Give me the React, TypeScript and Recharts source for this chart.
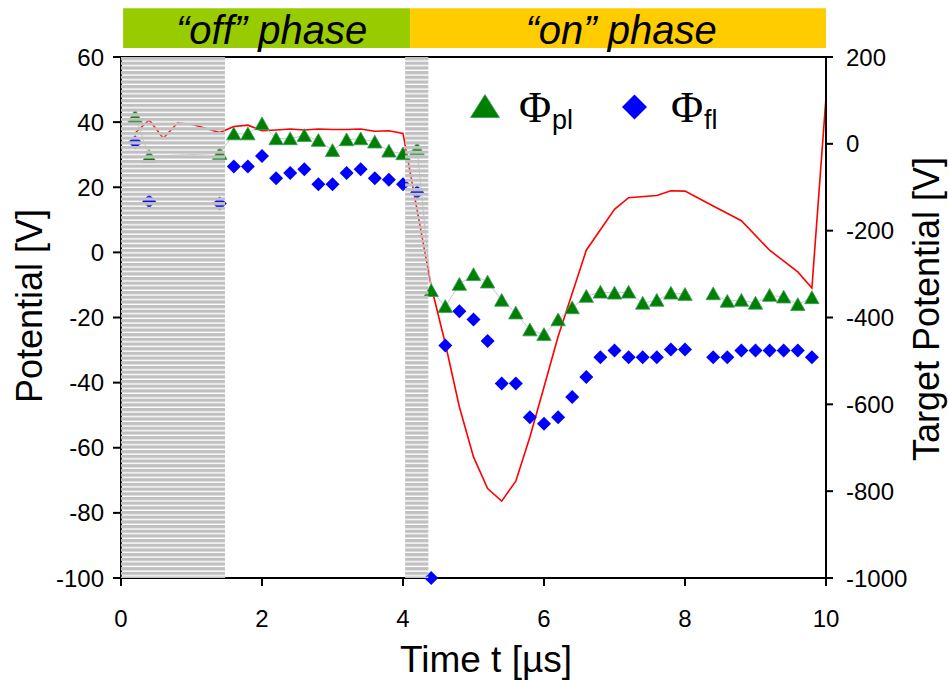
import React from 'react';
import { ComposedChart, Line, Scatter, XAxis, YAxis, ReferenceArea, ReferenceLine, Label } from 'recharts';

// Time axis [µs]
const xTicks = [0, 2, 4, 6, 8, 10];
const leftTicks = [-100, -80, -60, -40, -20, 0, 20, 40, 60];
const rightTicks = [-1000, -800, -600, -400, -200, 0, 200];

// Phi_pl (plasma potential) [V]
const plTime = [0.2, 0.4, 1.4, 1.6, 1.8, 2.0, 2.2, 2.4, 2.6, 2.8, 3.0, 3.2, 3.4, 3.6, 3.8, 4.0, 4.2, 4.4, 4.6, 4.8, 5.0, 5.2, 5.4, 5.6, 5.8, 6.0, 6.2, 6.4, 6.6, 6.8, 7.0, 7.2, 7.4, 7.6, 7.8, 8.0, 8.2, 8.4, 8.6, 8.8, 9.0, 9.2, 9.4, 9.6, 9.8];
const plValues = [41.8, 29.5, 30.4, 36.4, 36.4, 39.5, 34.9, 34.9, 35.9, 34.4, 31.3, 34.6, 34.9, 33.9, 31.1, 30.3, 31.8, -11.7, -16.6, -9.8, -6.8, -9.1, -14.7, -18.6, -23.8, -25.2, -20.7, -17.0, -13.5, -12.2, -12.5, -12.2, -15.6, -14.7, -12.5, -12.9, null, -12.7, -15.0, -14.7, -15.6, -13.2, -13.7, -16.0, -13.9];

// Phi_fl (floating potential) [V]
const flTime = [0.2, 0.4, 1.4, 1.6, 1.8, 2.0, 2.2, 2.4, 2.6, 2.8, 3.0, 3.2, 3.4, 3.6, 3.8, 4.0, 4.2, 4.4, 4.6, 4.8, 5.0, 5.2, 5.4, 5.6, 5.8, 6.0, 6.2, 6.4, 6.6, 6.8, 7.0, 7.2, 7.4, 7.6, 7.8, 8.0, 8.4, 8.6, 8.8, 9.0, 9.2, 9.4, 9.6, 9.8];
const flValues = [33.8, 15.7, 15.0, 26.4, 26.4, 29.6, 22.8, 24.4, 25.5, 20.9, 20.9, 24.4, 25.5, 22.8, 22.3, 20.9, 18.5, -100, -28.6, -18.1, -20.6, -27.2, -40.3, -40.3, -50.6, -52.6, -50.6, -44.4, -38.3, -32.2, -30.1, -32.2, -32.2, -32.2, -29.8, -29.8, -32.2, -32.2, -30.1, -30.1, -30.1, -30.1, -30.1, -32.2];

// Target potential [V] (right axis)
const targetTime = [0.2, 0.4, 0.6, 0.8, 1.0, 1.2, 1.4, 1.6, 1.8, 2.0, 2.2, 2.4, 2.6, 2.8, 3.0, 3.2, 3.4, 3.6, 3.8, 4.0, 4.2, 4.4, 4.6, 4.8, 5.0, 5.2, 5.4, 5.6, 5.8, 6.0, 6.2, 6.6, 7.0, 7.2, 7.6, 7.8, 8.0, 8.4, 8.8, 9.2, 9.6, 9.8, 10.0];
const targetValues = [25, 55, 13, 48, 45, 36, 26, 40, 43, 30, 32, 34, 32, 34, 33, 33, 34, 29, 30, 24, -152, -328, -460, -606, -721, -794, -823, -777, -675, -560, -444, -245, -151, -124, -119, -108, -109, -143, -177, -245, -295, -332, 107];

// Shaded (gated) intervals and phases
const shadedStart = [0, 4.03];
const shadedEnd = [1.475, 4.36];
const phaseNames = ['\u201Coff\u201D phase', '\u201Con\u201D phase'];
const phaseStart = [0.03, 4.1];
const phaseEnd = [4.1, 10.0];
const phaseColors = ['#99cc00', '#ffcc00'];

const plData = plTime.map((t, i) => ({ t, v: plValues[i] }));
const flData = flTime.map((t, i) => ({ t, v: flValues[i] }));
const targetData = targetTime.map((t, i) => ({ t, r: targetValues[i] }));

const FONT = '"Liberation Sans", Arial, Helvetica, sans-serif';
const SERIF = '"Liberation Serif", "Times New Roman", serif';

const triangleDot = (p: any) => {
  const { cx, cy, index } = p;
  if (cx == null || cy == null || isNaN(cy)) return <g key={`tri-${index}`} />;
  return (
    <path
      key={`tri-${index}`}
      d={`M${cx},${cy - 6.8} L${cx + 7.2},${cy + 6} L${cx - 7.2},${cy + 6} Z`}
      fill="#008000"
      stroke="#3a9a5c"
      strokeWidth={0.8}
    />
  );
};

const diamondShape = (p: any) => {
  const { cx, cy } = p;
  if (cx == null || cy == null) return <g />;
  return (
    <path
      d={`M${cx},${cy - 7} L${cx + 7},${cy} L${cx},${cy + 7} L${cx - 7},${cy} Z`}
      fill="#0000ff"
    />
  );
};

const phaseLabel = (name: string, dx: number) => (props: any) => {
  const vb = props.viewBox || {};
  const x = (vb.x ?? 0) + (vb.width ?? 0) / 2 + dx;
  const y = (vb.y ?? 0) + (vb.height ?? 0) - 4;
  return (
    <text x={x} y={y} textAnchor="middle" fontSize={40} fontStyle="italic" fontFamily={FONT} fill="#000">
      {name}
    </text>
  );
};

export default function App() {
  return (
    <div style={{ position: 'absolute', left: 0, top: 0, width: 949, height: 681, background: '#fff' }}>
      <ComposedChart
        width={949}
        height={681}
        margin={{ top: 57, right: 0, bottom: 0, left: 0 }}
        style={{ fontFamily: FONT }}
      >
        <defs>
          <pattern id="hatch" patternUnits="userSpaceOnUse" x="0" y="57" width="10" height="4.68">
            <rect x="0" y="0" width="10" height="3.3" fill="#c0c0c0" />
          </pattern>
        </defs>
        <XAxis
          type="number"
          dataKey="t"
          domain={[0, 10]}
          ticks={xTicks}
          height={103}
          tickSize={8}
          tickMargin={24}
          axisLine={{ stroke: '#000', strokeWidth: 2 }}
          tickLine={{ stroke: '#000', strokeWidth: 2 }}
          tick={{ fontSize: 24, fill: '#000', fontFamily: FONT }}
          interval={0}
        >
          <Label
            content={() => (
              <text x={486} y={672} textAnchor="middle" fontSize={37} fontFamily={FONT} fill="#000">
                Time t [µs]
              </text>
            )}
          />
        </XAxis>
        <YAxis
          yAxisId="left"
          dataKey="v"
          type="number"
          domain={[-100, 60]}
          ticks={leftTicks}
          width={121}
          tickSize={8}
          tickMargin={9}
          axisLine={{ stroke: '#000', strokeWidth: 2 }}
          tickLine={{ stroke: '#000', strokeWidth: 2 }}
          tick={{ fontSize: 24, fill: '#000', fontFamily: FONT }}
          interval={0}
        >
          <Label
            content={() => (
              <text
                x={42}
                y={306}
                transform="rotate(-90 42 306)"
                textAnchor="middle"
                fontSize={36}
                fontFamily={FONT}
                fill="#000"
              >
                Potential [V]
              </text>
            )}
          />
        </YAxis>
        <YAxis
          yAxisId="right"
          orientation="right"
          dataKey="r"
          type="number"
          domain={[-1000, 200]}
          ticks={rightTicks}
          width={123}
          tickSize={7}
          tickMargin={13}
          axisLine={{ stroke: '#000', strokeWidth: 2 }}
          tickLine={{ stroke: '#000', strokeWidth: 2 }}
          tick={{ fontSize: 24, fill: '#000', fontFamily: FONT }}
          interval={0}
        >
          <Label
            content={() => (
              <text
                x={939}
                y={309}
                transform="rotate(-90 939 309)"
                textAnchor="middle"
                fontSize={36}
                fontFamily={FONT}
                fill="#000"
              >
                Target Potential [V]
              </text>
            )}
          />
        </YAxis>

        <ReferenceLine yAxisId="left" y={60} stroke="#000" strokeWidth={2} ifOverflow="visible" />

        {phaseNames.map((name, i) => (
          <ReferenceArea
            key={name}
            yAxisId="left"
            x1={phaseStart[i]}
            x2={phaseEnd[i]}
            y1={62.76}
            y2={75}
            fill={phaseColors[i]}
            fillOpacity={1}
            stroke="none"
            ifOverflow="visible"
            label={phaseLabel(name, i === 0 ? 5 : 3)}
          />
        ))}

        <Line
          yAxisId="right"
          data={targetData}
          dataKey="r"
          stroke="#ff0000"
          strokeWidth={1.6}
          dot={false}
          activeDot={false}
          isAnimationActive={false}
        />
        <Line
          yAxisId="left"
          data={plData}
          dataKey="v"
          stroke="#c8c8c8"
          strokeWidth={1}
          dot={triangleDot}
          activeDot={false}
          isAnimationActive={false}
        />
        <Scatter
          yAxisId="left"
          data={flData}
          dataKey="v"
          shape={diamondShape}
          isAnimationActive={false}
        />

        {shadedStart.map((s, i) => (
          <ReferenceArea
            key={`sh-${i}`}
            yAxisId="left"
            x1={s}
            x2={shadedEnd[i]}
            y1={-100}
            y2={60}
            fill="url(#hatch)"
            fillOpacity={1}
            stroke="none"
            zIndex={650}
          />
        ))}
      </ComposedChart>

      <svg
        width={949}
        height={681}
        style={{ position: 'absolute', left: 0, top: 0, pointerEvents: 'none' }}
      >
        <path d="M485,94.5 L499.5,117.5 L470.5,117.5 Z" fill="#008000" stroke="#3a9a5c" strokeWidth={0.8} />
        <text x={519} y={122} fontSize={44} fontFamily={SERIF} fill="#000">
          Φ
        </text>
        <text x={552} y={129} fontSize={27} fontFamily={FONT} fill="#000">
          pl
        </text>
        <path d="M634.5,94.5 L647,107 L634.5,119.5 L622,107 Z" fill="#0000ff" />
        <text x={671} y={122} fontSize={44} fontFamily={SERIF} fill="#000">
          Φ
        </text>
        <text x={704} y={129} fontSize={27} fontFamily={FONT} fill="#000">
          fl
        </text>
      </svg>
    </div>
  );
}
